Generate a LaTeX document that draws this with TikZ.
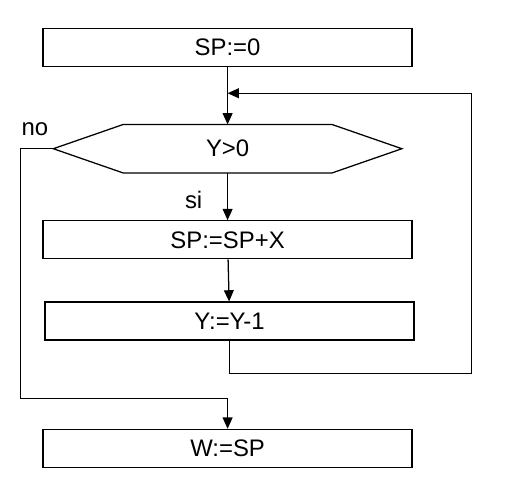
\documentclass[tikz,border=0pt]{standalone}
\usepackage{fontspec}
\setmainfont{Liberation Sans}
\usetikzlibrary{positioning,arrows.meta}

\begin{document}
\begin{tikzpicture}[node distance=1cm, auto, font=\fontsize{17}{19}\selectfont,
	box/.style={rectangle, draw, line width=0.9pt, minimum width=9.225cm, minimum height=0.95cm},
	test/.style={rectangle, minimum width=8.7cm, minimum height=1.2cm, inner sep=0pt},
	arrow/.style={-{Triangle[length=8pt,width=7pt]}, line width=0.9pt}]
	\useasboundingbox (0,0) rectangle (12.7,-12.375);

	\node[box] at (5.69,-1.19) (sp0) {SP:=0};
	\node[test, below=1.43cm of sp0] (cond) {Y>0};
	\node[box, below=1.18cm of cond] (sum) {SP:=SP+X};
	\node[box, below=1.05cm of sum, xshift=0.05cm] (dec) {Y:=Y-1};
	\node[box, below=2.2cm of dec, xshift=-0.05cm] (res) {W:=SP};
	\coordinate[below=0.65cm of sp0.south] (join);

	% hexagon of the test
	\draw[line width=0.9pt] (cond.west) -- ([xshift=1.75cm]cond.north west) -- ([xshift=-1.75cm]cond.north east)
		-- (cond.east) -- ([xshift=-1.75cm]cond.south east) -- ([xshift=1.75cm]cond.south west) -- cycle;

	\draw[arrow] (sp0) -- (cond);
	\draw[arrow] (cond) -- node[left=0.5cm, pos=0.58] {si} (sum);
	\draw[arrow] (sum) -- (dec);
	\draw[arrow] (dec.south) -- ++(0,-0.825) -- ++(6.05,0) |- (join);
	\draw[arrow] (cond.west) -- ++(-0.825,0) node[above right=0.2cm and -0.1cm] {no} |- ([yshift=0.75cm]res.north) -- (res.north);

\end{tikzpicture}
\end{document}
